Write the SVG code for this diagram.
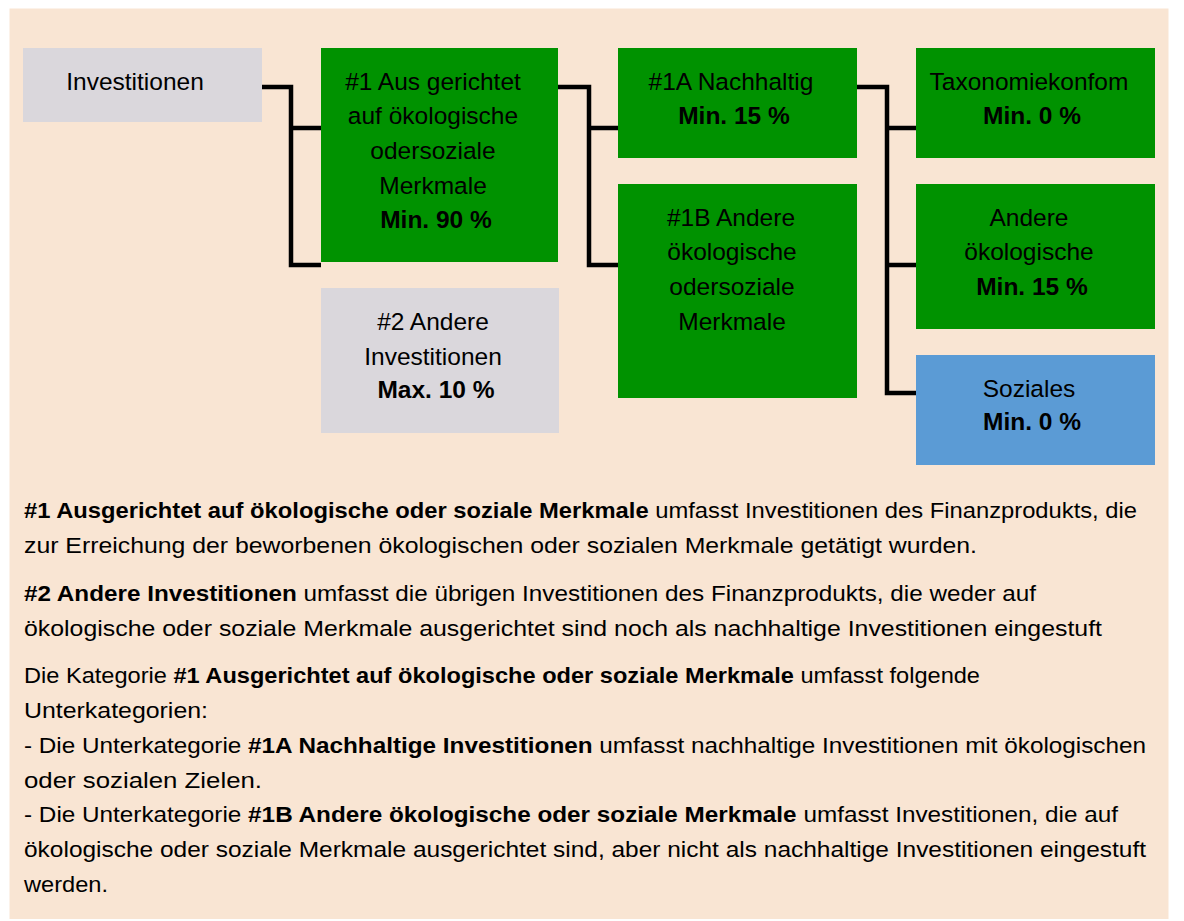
<svg xmlns="http://www.w3.org/2000/svg" width="1184" height="921" viewBox="0 0 1184 921">
<style>
.t{font-family:"Liberation Sans",Arial,sans-serif;font-size:24.5px;fill:#000;text-anchor:middle}
.b{font-weight:bold}
.p{font-family:"Liberation Sans",Arial,sans-serif;font-size:21.3px;fill:#000}
.g{fill:#009200}
.gr{fill:#DAD7DC}
.bl{fill:#5B9BD5}
.c{fill:none;stroke:#000;stroke-width:4.5;stroke-linejoin:miter}
</style>
<rect width="1184" height="921" fill="#fff"/>
<rect x="9.5" y="8.5" width="1159" height="910.5" fill="#F9E5D3"/>
<g id="connectors">
<path class="c" d="M262,87 H291 V265 H321 M291,128 H321"/>
<path class="c" d="M558,87 H589 V265 H618 M589,128 H618"/>
<path class="c" d="M857,87 H887 V393 H916 M887,128 H916 M887,265 H916"/>
</g>
<g id="investitionen">
<rect class="gr" x="23" y="48" width="239" height="74"/>
<text class="t" x="135" y="90">Investitionen</text>
</g>
<g id="n1">
<rect class="g" x="321" y="48" width="237" height="214"/>
<text class="t" x="433" y="90">#1 Aus gerichtet</text>
<text class="t" x="433" y="124">auf ökologische</text>
<text class="t" x="433" y="159">odersoziale</text>
<text class="t" x="433" y="194">Merkmale</text>
<text class="t b" x="436" y="228">Min. 90 %</text>
</g>
<g id="n2">
<rect class="gr" x="321" y="288" width="238" height="145"/>
<text class="t" x="433" y="330">#2 Andere</text>
<text class="t" x="433" y="365">Investitionen</text>
<text class="t b" x="436" y="398">Max. 10 %</text>
</g>
<g id="n1a">
<rect class="g" x="618" y="48" width="239" height="110"/>
<text class="t" x="731" y="90">#1A Nachhaltig</text>
<text class="t b" x="734" y="124">Min. 15 %</text>
</g>
<g id="n1b">
<rect class="g" x="618" y="184" width="239" height="214"/>
<text class="t" x="731" y="226">#1B Andere</text>
<text class="t" x="732" y="260">ökologische</text>
<text class="t" x="732" y="295">odersoziale</text>
<text class="t" x="732" y="330">Merkmale</text>
</g>
<g id="taxonomie">
<rect class="g" x="916" y="48" width="239" height="110"/>
<text class="t" x="1029" y="90">Taxonomiekonfom</text>
<text class="t b" x="1032" y="124">Min. 0 %</text>
</g>
<g id="andere">
<rect class="g" x="916" y="184" width="239" height="145"/>
<text class="t" x="1029" y="226">Andere</text>
<text class="t" x="1029" y="260">ökologische</text>
<text class="t b" x="1032" y="295">Min. 15 %</text>
</g>
<g id="soziales">
<rect class="bl" x="916" y="355" width="239" height="110"/>
<text class="t" x="1029" y="397">Soziales</text>
<text class="t b" x="1032" y="430">Min. 0 %</text>
</g>
<g id="legend">
<text class="p" x="24" y="518" textLength="1113" lengthAdjust="spacingAndGlyphs"><tspan class="b">#1 Ausgerichtet auf ökologische oder soziale Merkmale</tspan> umfasst Investitionen des Finanzprodukts, die</text>
<text class="p" x="24" y="553" textLength="953" lengthAdjust="spacingAndGlyphs">zur Erreichung der beworbenen ökologischen oder sozialen Merkmale getätigt wurden.</text>
<text class="p" x="24" y="601" textLength="1012" lengthAdjust="spacingAndGlyphs"><tspan class="b">#2 Andere Investitionen</tspan> umfasst die übrigen Investitionen des Finanzprodukts, die weder auf</text>
<text class="p" x="24" y="636" textLength="1078" lengthAdjust="spacingAndGlyphs">ökologische oder soziale Merkmale ausgerichtet sind noch als nachhaltige Investitionen eingestuft</text>
<text class="p" x="24" y="683" textLength="956" lengthAdjust="spacingAndGlyphs">Die Kategorie <tspan class="b">#1 Ausgerichtet auf ökologische oder soziale Merkmale</tspan> umfasst folgende</text>
<text class="p" x="24" y="718" textLength="184" lengthAdjust="spacingAndGlyphs">Unterkategorien:</text>
<text class="p" x="24" y="753" textLength="1122" lengthAdjust="spacingAndGlyphs">- Die Unterkategorie <tspan class="b">#1A Nachhaltige Investitionen</tspan> umfasst nachhaltige Investitionen mit ökologischen</text>
<text class="p" x="24" y="788" textLength="238" lengthAdjust="spacingAndGlyphs">oder sozialen Zielen.</text>
<text class="p" x="24" y="822" textLength="1094" lengthAdjust="spacingAndGlyphs">- Die Unterkategorie <tspan class="b">#1B Andere ökologische oder soziale Merkmale</tspan> umfasst Investitionen, die auf</text>
<text class="p" x="24" y="857" textLength="1122" lengthAdjust="spacingAndGlyphs">ökologische oder soziale Merkmale ausgerichtet sind, aber nicht als nachhaltige Investitionen eingestuft</text>
<text class="p" x="24" y="892" textLength="84" lengthAdjust="spacingAndGlyphs">werden.</text>
</g>
</svg>
